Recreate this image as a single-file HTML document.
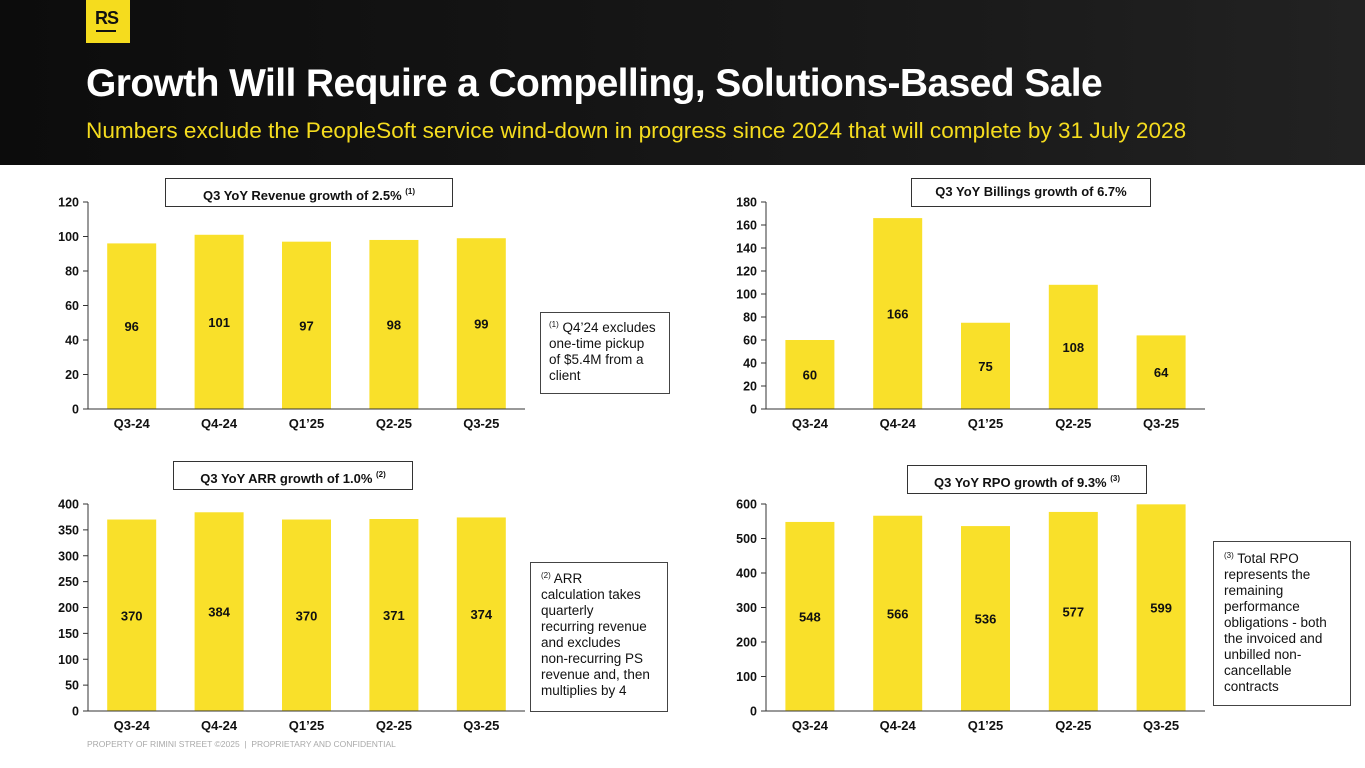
<!DOCTYPE html>
<html><head><meta charset="utf-8">
<style>
body{margin:0;width:1365px;height:768px;background:#fff;position:relative;overflow:hidden;font-family:"Liberation Sans",Arial,sans-serif;}
#hdr{position:absolute;left:0;top:0;width:1365px;height:165px;background:linear-gradient(90deg,#0c0c0c,#1a1a1a 70%,#222);}
#logo{position:absolute;left:86px;top:0;width:44px;height:43px;background:#f5dc1e;}
#logo span{position:absolute;left:9px;top:8px;font-weight:bold;font-size:18px;color:#111;letter-spacing:-1px}
#logo i{position:absolute;left:10px;top:30px;width:20px;height:2px;background:#111}
h1{position:absolute;left:86px;top:62px;margin:0;font-size:39px;color:#fff;font-weight:bold;letter-spacing:-0.6px}
h2{position:absolute;left:86px;top:118px;margin:0;font-size:22.6px;color:#f5dc1e;font-weight:normal}
.box{position:absolute;border:1px solid #333;background:#fff;font-weight:bold;font-size:13px;text-align:center;box-sizing:border-box;line-height:26px;color:#111}
.box sup{font-size:8px;vertical-align:6px}
.note{position:absolute;border:1px solid #444;box-sizing:border-box;font-size:13.5px;line-height:16px;padding:4px 4px 0 10px;color:#111;white-space:nowrap}
.note sup{font-size:8px;vertical-align:5px}
#foot{position:absolute;left:87px;top:739px;font-size:8.5px;color:#aaa}
svg{position:absolute;left:0;top:0}
</style></head><body>
<div id="hdr"></div>
<div id="logo"><span>RS</span><i></i></div>
<h1>Growth Will Require a Compelling, Solutions-Based Sale</h1>
<h2>Numbers exclude the PeopleSoft service wind-down in progress since 2024 that will complete by 31 July 2028</h2>
<div class="box" style="left:165px;top:178px;width:288px;height:29px">Q3 YoY Revenue growth of 2.5% <sup>(1)</sup></div>
<div class="box" style="left:911px;top:178px;width:240px;height:29px">Q3 YoY Billings growth of 6.7%</div>
<div class="box" style="left:173px;top:461px;width:240px;height:29px">Q3 YoY ARR growth of 1.0% <sup>(2)</sup></div>
<div class="box" style="left:907px;top:465px;width:240px;height:29px">Q3 YoY RPO growth of 9.3% <sup>(3)</sup></div>
<div class="note" style="left:540px;top:312px;width:130px;height:82px;padding-left:8px"><sup>(1)</sup> Q4’24 excludes<br>one-time pickup<br>of $5.4M from a<br>client</div>
<div class="note" style="left:530px;top:562px;width:138px;height:150px;padding-top:5px"><sup>(2)</sup> ARR<br>calculation takes<br>quarterly<br>recurring revenue<br>and excludes<br>non-recurring PS<br>revenue and, then<br>multiplies by 4</div>
<div class="note" style="left:1213px;top:541px;width:138px;height:165px;padding-top:6px"><sup>(3)</sup> Total RPO<br>represents the<br>remaining<br>performance<br>obligations - both<br>the invoiced and<br>unbilled non-<br>cancellable<br>contracts</div>
<div id="foot">PROPERTY OF RIMINI STREET ©2025 &nbsp;|&nbsp; PROPRIETARY AND CONFIDENTIAL</div>
<svg id="chart" width="1365" height="768"></svg>
<script>
const categories=["Q3-24","Q4-24","Q1’25","Q2-25","Q3-25"];
const revenueValues=[96,101,97,98,99];
const billingsValues=[60,166,75,108,64];
const arrValues=[370,384,370,371,374];
const rpoValues=[548,566,536,577,599];
const revenueTicks=[0,20,40,60,80,100,120];
const billingsTicks=[0,20,40,60,80,100,120,140,160,180];
const arrTicks=[0,50,100,150,200,250,300,350,400];
const rpoTicks=[0,100,200,300,400,500,600];
const NS="http://www.w3.org/2000/svg";
const svg=document.getElementById('chart');
function mk(tag,attrs,parent){const e=document.createElementNS(NS,tag);for(const k in attrs)e.setAttribute(k,attrs[k]);parent.appendChild(e);return e;}
function drawChart(name,x0,x1,yTop,yBot,values,ticks){
  const g=mk('g',{},svg);
  
  
  const max=ticks[ticks.length-1];
  const y=v=>yBot-(v/max)*(yBot-yTop);
  const step=(x1-x0)/values.length;
  const xc=i=>x0+step*(i+0.5);
  const bw=49;
  values.forEach((v,i)=>{
    const r=mk('rect',{x:xc(i)-bw/2,y:y(v),width:bw,height:yBot-y(v),fill:'#f9e02a'},g);
    
    
    const t=mk('text',{x:xc(i),y:(y(v)+yBot)/2+5,'text-anchor':'middle','font-size':13,'font-weight':'bold',fill:'#111'},g);
    t.textContent=v;
    
    
    const c=mk('text',{x:xc(i),y:yBot+19,'text-anchor':'middle','font-size':13,'font-weight':'bold',fill:'#111'},g);
    c.textContent=categories[i];
    
    
  });
  mk('line',{x1:x0,y1:yTop,x2:x0,y2:yBot,stroke:'#333','stroke-width':1},g);
  mk('line',{x1:x0,y1:yBot,x2:x1,y2:yBot,stroke:'#333','stroke-width':1},g);
  ticks.forEach(tv=>{
    mk('line',{x1:x0-5,y1:y(tv),x2:x0,y2:y(tv),stroke:'#333'},g);
    const t=mk('text',{x:x0-9,y:y(tv)+4.5,'text-anchor':'end','font-size':12.5,'font-weight':'bold',fill:'#111'},g);
    t.textContent=tv;
    
    
  });
}
drawChart('revenue',88,525,202,409,revenueValues,revenueTicks);
drawChart('billings',766,1205,202,409,billingsValues,billingsTicks);
drawChart('arr',88,525,504,711,arrValues,arrTicks);
drawChart('rpo',766,1205,504,711,rpoValues,rpoTicks);
</script>
</body></html>
